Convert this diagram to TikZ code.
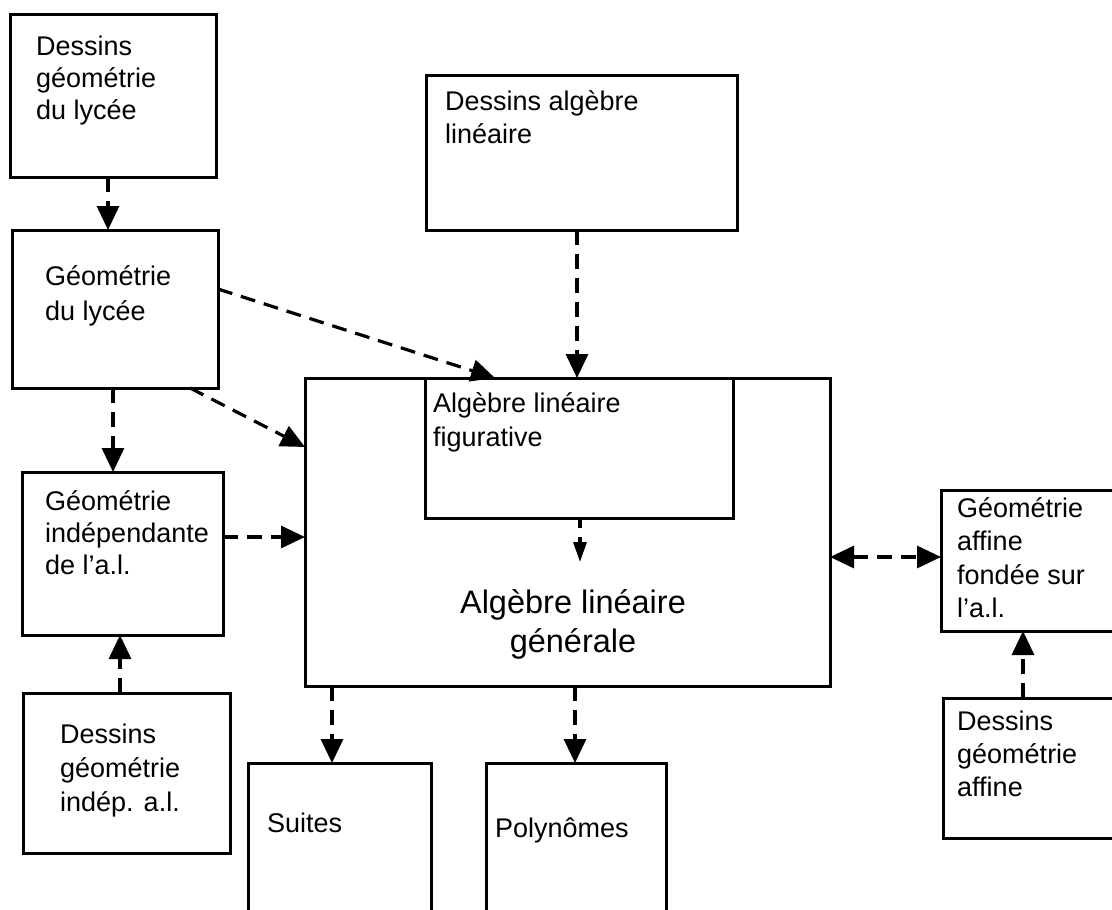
\documentclass[tikz,border=0pt]{standalone}
\usepackage{fontspec}
\setmainfont{Liberation Sans}
\usetikzlibrary{arrows.meta,calc}
\begin{document}
\begin{tikzpicture}[x=1pt,y=-1pt,
  box/.style={draw, line width=3pt, inner sep=0pt, outer sep=0pt, rectangle},
  openbox/.style={inner sep=0pt, outer sep=0pt, rectangle},
  txt/.style={inner sep=0pt, anchor=base west, align=left, font=\fontsize{27}{33}\selectfont},
  bigtxt/.style={inner sep=0pt, anchor=base, align=center, font=\fontsize{32.5}{39}\selectfont},
  tip/.tip={Triangle[length=24pt,width=22pt]},
  smalltip/.tip={Triangle[length=20pt,width=13pt]},
  arr/.style={line width=3.2pt, dash pattern=on 15pt off 9pt, -tip},
  sarr/.style={line width=3.2pt, dash pattern=on 10pt off 9pt, -smalltip},
  darr/.style={line width=3.2pt, dash pattern=on 15pt off 9pt, tip-tip},
]
\useasboundingbox (0,0) rectangle (1112,910);
\fill[white] (0,0) rectangle (1112,910);

% boxes
\node[box, minimum width=206pt, minimum height=163pt] (b1) at (113,95.5) {};
\node[box, minimum width=206pt, minimum height=158pt] (b2) at (115,309) {};
\node[box, minimum width=201pt, minimum height=163pt] (b3) at (122.5,553.5) {};
\node[box, minimum width=207pt, minimum height=160pt] (b4) at (126.5,773) {};
\node[box, minimum width=311pt, minimum height=155pt] (b5) at (581.5,152.5) {};
\node[box, minimum width=525pt, minimum height=308pt] (b6) at (567.5,532) {};
\node[box, minimum width=308pt, minimum height=140pt] (b7) at (579,448) {};
\node[box, minimum width=179pt, minimum height=141pt] (b8) at (1030.5,560.5) {};
\node[box, minimum width=177pt, minimum height=140pt] (b9) at (1031.5,768) {};
\node[openbox, minimum width=183pt, minimum height=157pt] (b10) at (339.5,841.5) {};
\node[openbox, minimum width=180pt, minimum height=157pt] (b11) at (576,841.5) {};
\draw[line width=3pt] (b10.south west) -- (b10.north west) -- (b10.north east) -- (b10.south east);
\draw[line width=3pt] (b11.south west) -- (b11.north west) -- (b11.north east) -- (b11.south east);

% texts (anchor: baseline of the last line)
\node[txt, font=\fontsize{27}{32}\selectfont] (t1) at (36,119) {Dessins\\géométrie\\du lycée};
\node[txt, font=\fontsize{27}{35}\selectfont] (t2) at (45,320) {Géométrie\\du lycée};
\node[txt, font=\fontsize{27}{32}\selectfont] (t3) at (45,574) {Géométrie\\indépendante\\de l’a.l.};
\node[txt, font=\fontsize{27}{34}\selectfont] (t4) at (60,811) {Dessins\\géométrie\\indép. a.l.};
\node[txt] (t5) at (445,143) {Dessins algèbre\\linéaire};
\node[txt, font=\fontsize{27}{34}\selectfont] (t7) at (433,446) {Algèbre linéaire\\figurative};
\node[bigtxt] (t6) at (573,652) {Algèbre linéaire\\générale};
\node[txt, font=\fontsize{27}{33.5}\selectfont] (t8) at (957,617.5) {Géométrie\\affine\\fondée sur\\l’a.l.};
\node[txt] (t9) at (957,796) {Dessins\\géométrie\\affine};
\node[txt] (t10) at (267,832) {Suites};
\node[txt] (t11) at (495,837) {Polynômes};

% connectors
\draw[arr] ([xshift=-5pt]b1.south) -- ([xshift=-7pt]b2.north);
\draw[arr] ([xshift=-2pt]b2.south) -- ([xshift=-9.5pt]b3.north);
\draw[arr] ([xshift=-6.5pt]b4.north) -- ([xshift=-2.5pt]b3.south);
\draw[arr] ([yshift=16.5pt]b3.east) coordinate (p1) -- (p1 -| b6.west);
\draw[arr] ([yshift=20pt]b2.east) -- ([xshift=-72.5pt]b6.north);
\draw[arr] ([xshift=-28pt]b2.south east) -- ([yshift=85pt]b6.west);
\draw[arr] ([xshift=-4.5pt]b5.south) coordinate (p2) -- (p2 |- b7.north);
\coordinate (c1) at (580,562);
\draw[sarr] (b7.south -| c1) -- (c1);
\draw[darr] ([yshift=-25pt]b6.east) coordinate (p3) -- (p3 -| b8.west);
\draw[arr] ([xshift=-8.5pt]b9.north) coordinate (p4) -- (p4 |- b8.south);
\draw[arr] ([xshift=-7.5pt]b10.north) coordinate (p5) (p5 |- b6.south) -- (p5);
\draw[arr] ([xshift=-1pt]b11.north) coordinate (p6) (p6 |- b6.south) -- (p6);
\end{tikzpicture}
\end{document}
